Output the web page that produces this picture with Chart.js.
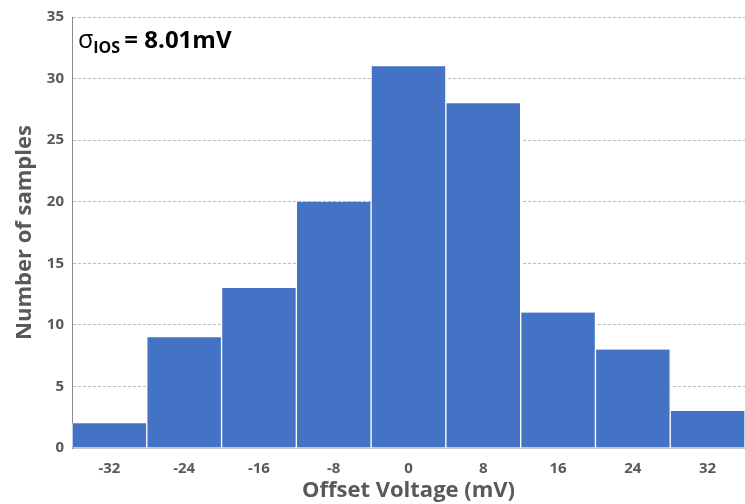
<!DOCTYPE html>
<html>
<head>
<meta charset="utf-8">
<script src="https://cdn.jsdelivr.net/npm/chart.js@4"></script>
<style>
    html, body { margin: 0; padding: 0; background: #fff; }
    #wrap { width: 745px; height: 504px; }
</style>
</head>
<body>
<div id="wrap"><canvas id="histChart"></canvas></div>
<script>
/* ================= DATA ================= */
const binLabels = ["-32", "-24", "-16", "-8", "0", "8", "16", "24", "32"];
const sampleCounts = [2, 9, 13, 20, 31, 28, 11, 8, 3];
const sigmaText = { symbol: "σ", sub: "IOS", rest: " = 8.01mV" };

const FONT = "'Open Sans', 'Roboto', sans-serif";
const GREY = "#595959";

/* ================= SIGMA LABEL ================= */
const sigmaPlugin = {
    id: "sigma",
    afterDraw(chart) {
        const { ctx, chartArea } = chart;
        const x = chartArea.left + 6;
        const y = chartArea.top + 31;
        ctx.save();
        ctx.fillStyle = "#000";
        ctx.textBaseline = "alphabetic";
        ctx.font = "25px " + FONT;
        ctx.fillText(sigmaText.symbol, x, y);
        let w = ctx.measureText(sigmaText.symbol).width;
        ctx.font = "bold 16px " + FONT;
        ctx.fillText(sigmaText.sub, x + w, y + 5);
        w += ctx.measureText(sigmaText.sub).width;
        ctx.font = "bold 24px " + FONT;
        ctx.fillText(sigmaText.rest, x + w - 2, y);
        ctx.restore();
    }
};

/* ================= CHART ================= */
new Chart(document.getElementById("histChart"), {
    type: "bar",
    data: {
        labels: binLabels,
        datasets: [{
            data: sampleCounts,
            backgroundColor: "#4472C4",
            borderColor: "#ffffff",
            borderWidth: { left: 1, right: 1 },
            borderSkipped: false,
            barPercentage: 1,
            categoryPercentage: 1
        }]
    },
    options: {
        responsive: true,
        maintainAspectRatio: false,
        animation: false,
        layout: { padding: { top: 10, right: 0, left: 12, bottom: 0 } },
        plugins: {
            legend: { display: false },
            tooltip: { enabled: false }
        },
        scales: {
            x: {
                grid: { display: false },
                border: { color: "#c8c8c8", width: 1 },
                ticks: {
                    color: GREY,
                    font: { family: FONT, size: 15, weight: "bold" },
                    padding: 4
                },
                title: {
                    display: true,
                    text: "Offset Voltage (mV)",
                    color: GREY,
                    font: { family: FONT, size: 22, weight: "bold" },
                    padding: { top: 0, bottom: 0 }
                },
                afterFit: s => { s.height = 56; }
            },
            y: {
                min: 0,
                max: 35,
                ticks: {
                    stepSize: 5,
                    color: GREY,
                    font: { family: FONT, size: 15, weight: "bold" },
                    padding: 8
                },
                grid: {
                    color: "#bdbdbd",
                    drawTicks: false
                },
                border: { color: "#8a8a8a", width: 1, dash: [3, 2] },
                title: {
                    display: true,
                    text: "Number of samples",
                    color: GREY,
                    font: { family: FONT, size: 22, weight: "bold" },
                    padding: { top: 0, bottom: 2 }
                },
                afterFit: s => { s.width = 60; }
            }
        }
    },
    plugins: [sigmaPlugin]
});
</script>
</body>
</html>
